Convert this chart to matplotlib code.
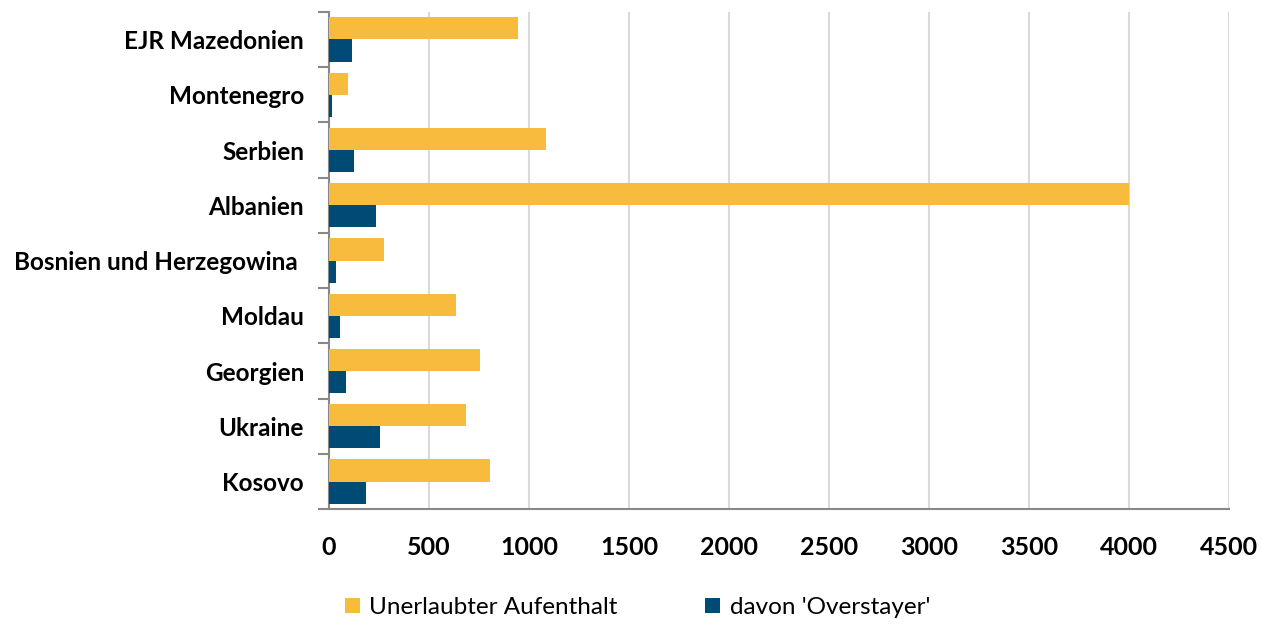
import numpy as np
import matplotlib
matplotlib.use('Agg')
import matplotlib.pyplot as plt
from matplotlib.ticker import FixedLocator

# Data (top to bottom)
countries = ['EJR Mazedonien', 'Montenegro', 'Serbien', 'Albanien',
             'Bosnien und Herzegowina ', 'Moldau', 'Georgien', 'Ukraine', 'Kosovo']
unerlaubt = [945, 95, 1085, 4000, 275, 635, 755, 685, 805]
overstayer = [115, 13, 125, 235, 35, 55, 85, 255, 185]
x_ticks = [0, 500, 1000, 1500, 2000, 2500, 3000, 3500, 4000, 4500]

orange = '#F7BB3D'
blue = '#004B76'

plt.rcParams['font.family'] = ['Lato', 'DejaVu Sans']

fig = plt.figure(figsize=(12.62, 6.24), dpi=100)
ax = fig.add_axes([0.2607, 0.184, 0.7132, 0.797])

n = len(countries)
y = np.arange(n)
h = 0.4
ax.barh(y - h / 2, unerlaubt, height=h, color=orange, label='Unerlaubter Aufenthalt', zorder=3)
ax.barh(y + h / 2, overstayer, height=h, color=blue, label="davon 'Overstayer'", zorder=3)

ax.set_ylim(n - 0.5, -0.5)
ax.set_xlim(0, 4500)

# Category labels without ticks, tick marks at band edges
ax.set_yticks(y)
ax.set_yticklabels(countries, fontsize=17.5, fontweight='bold')
ax.tick_params(axis='y', which='major', length=0, pad=18)
ax.yaxis.set_minor_locator(FixedLocator(np.arange(-0.5, n, 1.0)))
ax.tick_params(axis='y', which='minor', length=8, width=1.5, color='#888888')

ax.set_xticks(x_ticks)
ax.set_xticklabels([str(t) for t in x_ticks], fontsize=18, fontweight='bold')
ax.tick_params(axis='x', length=0, pad=19)

ax.grid(axis='x', color='#d9d9d9', linewidth=1.5, zorder=0)
for s in ['top', 'right']:
    ax.spines[s].set_visible(False)
for s in ['left', 'bottom']:
    ax.spines[s].set_color('#888888')
    ax.spines[s].set_linewidth(1.5)

fig.legend(loc='center left', bbox_to_anchor=(0.2734, 0.026), ncol=2, frameon=False,
           fontsize=17.5, handlelength=0.6, handleheight=0.6, handletextpad=0.4,
           columnspacing=3.6, borderpad=0, borderaxespad=0)

fig.savefig('out.png', dpi=100)
